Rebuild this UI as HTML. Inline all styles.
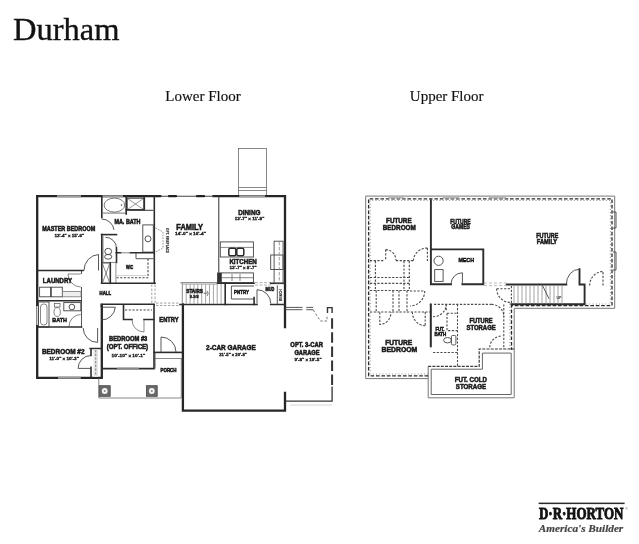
<!DOCTYPE html>
<html><head><meta charset="utf-8">
<style>
html,body{margin:0;padding:0;background:#fff;}
body{width:639px;height:544px;overflow:hidden;position:relative;}
svg{position:absolute;left:0;top:0;will-change:transform;}
.ser{font-family:"Liberation Serif",serif;fill:#111;}
.lb{font-family:"Liberation Sans",sans-serif;font-weight:bold;fill:#1a1a1a;text-anchor:middle;stroke:#1a1a1a;stroke-width:0.55;}
.W{stroke:#262626;stroke-width:2.3;fill:none;stroke-linecap:square;}
.I{stroke:#2c2c2c;stroke-width:1.6;fill:none;stroke-linecap:square;}
.T{stroke:#555;stroke-width:0.7;fill:none;}
.T2{stroke:#444;stroke-width:0.9;fill:none;}
.D{stroke:#4a4a4a;stroke-width:1.1;fill:none;stroke-dasharray:2.2 1.5;}
.DW{stroke:#777;stroke-width:0.8;fill:none;stroke-dasharray:1.6 1.2;}
.win{stroke:#9a9a9a;stroke-width:2.3;fill:none;}
</style></head>
<body>
<svg width="639" height="544" viewBox="0 0 639 544">
<!-- Titles -->
<text class="ser" x="13" y="39.5" font-size="32.5" stroke="#111" stroke-width="0.35">Durham</text>
<text class="ser" x="165.3" y="100.5" font-size="15" stroke="#111" stroke-width="0.15">Lower Floor</text>
<text class="ser" x="409.8" y="100.5" font-size="15" stroke="#111" stroke-width="0.15">Upper Floor</text>

<!-- ============ LOWER FLOOR ============ -->
<!-- chimney / bump -->
<rect class="T" x="238.5" y="148.5" width="28" height="47"/>
<line class="T" x1="238.5" y1="187.5" x2="266.5" y2="187.5"/>
<line class="T" x1="238.5" y1="190.5" x2="266.5" y2="190.5"/>

<!-- exterior walls -->
<path class="W" d="M37.2,196.2 H155.5 M213.5,196.2 H285 V327"/>
<path d="M155,196.2 H214" stroke="#444" stroke-width="1.1" fill="none"/>
<path d="M156.5,196.2 H160.5 M169,196.2 H176 M197,196.2 H204" stroke="#222" stroke-width="2.2" fill="none" stroke-linecap="round"/>
<path class="W" d="M37.2,196.2 V377.8 H101.8 V304.8"/>
<path class="W" d="M285,393 V410.6 H182.9 V304.5"/>
<!-- windows on top wall -->
<rect x="57" y="195.2" width="24" height="2.0" fill="#fff"/><path d="M57,195.6 H81 M57,196.79999999999998 H81" stroke="#5a5a5a" stroke-width="0.8" fill="none"/>
<rect x="102.5" y="195.2" width="20.5" height="2.0" fill="#fff"/><path d="M102.5,195.6 H123 M102.5,196.79999999999998 H123" stroke="#5a5a5a" stroke-width="0.8" fill="none"/>
<rect x="239.5" y="195.2" width="25.5" height="2.0" fill="#fff"/><path d="M239.5,195.6 H265 M239.5,196.79999999999998 H265" stroke="#5a5a5a" stroke-width="0.8" fill="none"/>

<!-- master bedroom / laundry -->
<path class="I" d="M37.2,270.5 H83"/>
<path class="T2" d="M84,270.5 A15.5,16 0 0 1 98.5,254.5 V270.5"/>
<!-- master bath block -->
<path class="I" d="M101.8,196.2 V217.5 M101.8,234.6 V283.3"/>
<path class="I" d="M154.3,196.2 V283.3"/>
<path d="M151.8,284.5 V303 M155,284.5 V303" stroke="#999" stroke-width="0.9" fill="none" stroke-dasharray="2.5 1.5"/>
<!-- tub -->
<path d="M102.5,213.1 H126" stroke="#666" stroke-width="0.9" fill="none"/>
<ellipse cx="114.4" cy="205.1" rx="10.3" ry="7" fill="none" stroke="#555" stroke-width="0.8"/>
<circle cx="121.5" cy="205" r="0.7" fill="#333"/>
<!-- shower -->
<path class="I" d="M126.2,196.5 V214"/>
<rect x="127.1" y="198.1" width="16.9" height="11.7" fill="none" stroke="#333" stroke-width="1.1"/>
<path d="M127.5,198.5 L143.5,209.5 M143.5,198.5 L127.5,209.5" stroke="#555" stroke-width="0.6" fill="none"/>
<path class="I" d="M144.3,196.5 V210 H126.2"/>
<path d="M144.5,210.3 H153.4" stroke="#444" stroke-width="1.1" fill="none"/>
<!-- bath inner wall near door -->
<path class="T2" d="M101.6,219 A12.5,12.5 0 0 1 114,230"/>
<path class="I" d="M101.6,234.6 H116.5"/>
<path class="T2" d="M105.5,237.3 A11,11 0 0 1 116.5,248.3"/>
<path class="T" d="M103,236 V262.4 H116.5"/>
<!-- toilet -->
<ellipse class="T2" cx="108.2" cy="251.5" rx="3.4" ry="3.2"/>
<ellipse class="T2" cx="108.2" cy="256.8" rx="3.6" ry="2.4"/>
<path class="I" d="M116.5,248 V262.4"/>
<!-- vanity -->
<rect class="T2" x="142.8" y="224.9" width="10.5" height="27.2"/>
<circle class="T2" cx="148" cy="238.8" r="3"/>
<!-- wic -->
<path class="I" d="M116.3,252.8 H120.5 M130.5,252.8 H154"/>
<path class="T" d="M120.5,252.8 H130.5"/>
<path class="T2" d="M136,253 V258.7 H153.5"/>
<path class="D" d="M116.5,277.7 H148 V259"/>
<path d="M116.5,275.6 H146" stroke="#bbb" stroke-width="0.7" fill="none"/>
<path d="M115.9,262 V283" stroke="#777" stroke-width="0.8" fill="none"/>
<path class="I" d="M101.6,283.3 H155"/>
<path class="I" d="M110.3,263 V283.3"/>
<!-- linen closet -->
<path class="T2" d="M101.8,263 H110.3"/>
<path class="T" d="M102.6,264 L109.5,282.5 M109.5,264 L102.6,282.5"/>
<!-- fireplace -->
<path class="DW" d="M155.5,228 L163,232 L163,248 L155.5,252"/>
<text class="lb" style="stroke-width:0.15;fill:#333" font-size="3.6" transform="translate(166.2,240.5) rotate(90)" textLength="25" lengthAdjust="spacingAndGlyphs">OPT. FIREPLACE</text>

<!-- laundry -->
<path class="T2" d="M81.5,270.5 V274 M81.5,287 V327.5"/>
<path class="T" d="M68,274 H80.8 M68,274 A13,13 0 0 0 80.8,287"/>
<rect class="T2" x="39.6" y="287.2" width="11" height="9.6"/>
<rect class="T2" x="51.3" y="287.2" width="11" height="9.6"/>
<rect x="62.5" y="291.6" width="18.5" height="5.2" fill="#eee" stroke="#777" stroke-width="0.8"/>
<path class="I" d="M37.2,300.8 H80.8"/>
<!-- bath -->
<rect x="36.2" y="306" width="2.2" height="19" fill="#fff"/><path d="M36.5,306 V325 M38.1,306 V325" stroke="#666" stroke-width="0.7" fill="none"/>
<rect class="T2" x="38.5" y="302" width="10.5" height="25"/>
<rect class="T" x="40.5" y="304" width="6.5" height="21" rx="3"/>
<rect class="T" x="54.5" y="303.5" width="5.5" height="3.5"/>
<ellipse class="T" cx="57.2" cy="312" rx="3.2" ry="4.5"/>
<rect class="T2" x="63.8" y="302.6" width="17" height="8.2"/>
<circle class="T2" cx="71.9" cy="307" r="2.8"/>
<path class="T" d="M69,326.5 A12,12 0 0 1 80.8,314.5"/>
<path class="I" d="M37.2,327 H81.5"/>
<path class="T2" d="M83.2,328 A14.4,14.4 0 0 0 97.6,342.4 V328"/>
<!-- bedroom 2 closet -->
<path class="I" d="M90.2,348.5 H101.8 M91,348.5 V355.5 M91,367.2 V377.8"/>
<rect x="93.5" y="349.5" width="4.5" height="27.5" fill="#e6e6e6"/>
<path class="D" d="M95.7,350 V376" style="stroke:#888"/>
<path class="T2" d="M78.1,368.4 H91 M78.1,368.4 A12.9,12.9 0 0 1 91,355.5"/>
<rect x="58.2" y="376.8" width="22.299999999999997" height="2.0" fill="#fff"/><path d="M58.2,377.2 H80.5 M58.2,378.40000000000003 H80.5" stroke="#5a5a5a" stroke-width="0.8" fill="none"/>

<!-- bedroom 3 -->
<path class="I" d="M101.4,304.3 H154 M101.4,304.3 V306.5"/>
<path class="I" d="M102,320 V377"/>
<path class="T2" d="M101.5,307.2 H115.3 A14,14 0 0 1 101.5,320"/>
<path class="I" d="M101.8,368.6 H154 V304.8"/>
<rect x="117.4" y="367.8" width="21.099999999999994" height="1.6" fill="#fff"/><path d="M117.4,368.2 H138.5 M117.4,369.00000000000006 H138.5" stroke="#5a5a5a" stroke-width="0.8" fill="none"/>
<path class="I" d="M123.5,305 V319.5 H132 M144,319.5 H153.5"/>
<path class="D" d="M125,310 H152"/>
<path class="T" d="M144,320 V332 M132,320 A12,12 0 0 0 144,332"/>

<!-- entry -->
<path d="M156,303.1 H179.5 M156,305.5 H179.5" stroke="#999" stroke-width="0.9" fill="none" stroke-dasharray="2.5 1.5"/>
<path class="I" d="M180,304.5 H257 M270.7,304.5 H285"/>
<path class="I" d="M154,352.4 H182.9"/>
<path class="T2" d="M161,337 V352 M161,337 A15,15 0 0 1 176,352"/>
<path class="T2" d="M155,352.4 V368.6"/>
<!-- porch -->
<path class="T" d="M155,358.5 H182.5"/>
<path class="T" d="M98.8,378 V398 H181.3 V358.5"/>
<rect x="99.2" y="385.7" width="11" height="10.6" fill="#6a6a6a" stroke="#444" stroke-width="0.8"/>
<rect x="146.4" y="385.7" width="10.8" height="10.6" fill="#6a6a6a" stroke="#444" stroke-width="0.8"/>
<circle cx="104.7" cy="391" r="2.9" fill="#f4f4f4"/>
<circle cx="151.8" cy="391" r="2.9" fill="#f4f4f4"/>
<circle cx="104.7" cy="391" r="1" fill="#888"/>
<circle cx="151.8" cy="391" r="1" fill="#888"/>

<!-- dining/kitchen -->
<path d="M218.8,196.2 V272.5" stroke="#333" stroke-width="1" fill="none"/>
<rect class="T2" x="220.3" y="241.9" width="33.1" height="15.1"/>
<path class="T" d="M220.3,247.4 H253.4"/>
<rect x="228.8" y="248.2" width="7" height="7.5" rx="1.5" fill="none" stroke="#2a2a2a" stroke-width="1.5"/>
<rect x="236.8" y="248.2" width="7" height="7.5" rx="1.5" fill="none" stroke="#2a2a2a" stroke-width="1.5"/>
<rect class="T2" x="217.6" y="272.9" width="35.8" height="9.7"/>
<rect x="217.6" y="272.9" width="4.2" height="9.7" fill="#333"/>
<path class="T" d="M222,277.7 H253.4 M232,274 V281 M240,274 V281"/>
<path d="M180.5,282.8 H224.8" stroke="#555" stroke-width="0.9" fill="none"/>
<path class="I" d="M217.6,283.3 H254"/>
<path d="M255,282.6 H270.7 M255,285 H270.7" stroke="#aaa" stroke-width="0.9" fill="none" stroke-dasharray="3 1.5"/>
<path class="I" d="M270.7,283.3 H285"/>
<!-- right cabinets -->
<rect class="T2" x="274.1" y="241.2" width="9" height="42.1"/>
<rect class="T2" x="270.7" y="255" width="12.4" height="14.5"/>
<path d="M279.3,242 V282.5" stroke="#888" stroke-width="0.8" fill="none" stroke-dasharray="3.5 1.5"/>
<!-- stairs -->
<path d="M182.3,283.2 V304" stroke="#777" stroke-width="0.9" fill="none"/>
<path d="M186.2,284 V304 M190.1,284 V304 M194,284 V304 M197.8,284 V304 M201.7,284 V304 M205.6,284 V304 M209.5,284 V304 M213.4,284 V304 M217.2,284 V304 M221.1,284 V304" stroke="#9a9a9a" stroke-width="0.9" fill="none"/>
<path d="M182,284.4 H217" stroke="#aaa" stroke-width="0.7" fill="none"/>
<path d="M203.5,293.2 H207.5 M207,290.8 Q209.5,293.2 207,296" stroke="#444" stroke-width="0.7" fill="none"/>
<path class="I" d="M225.2,283.3 V304.5"/>
<!-- pantry -->
<path class="T2" d="M231.4,286 H254 M231.4,286 V299 H254"/>
<path class="I" d="M254.1,297.5 V304.5"/>
<!-- mud -->
<path class="T2" d="M257,303.5 V289.7 A13.8,13.8 0 0 1 270.8,303.5"/>
<path d="M277.3,285.5 V304.5" stroke="#444" stroke-width="0.9" fill="none"/>
<text class="lb" font-size="3.36" transform="translate(282,295.2) rotate(-90)" style="stroke-width:0.1">BENCH</text>

<!-- opt 3-car garage -->
<path d="M285,307.4 H302.5 M285,309.7 H302.5 M306.3,307.4 H313.3 M306.3,309.7 H313.3" stroke="#444" stroke-width="0.9" fill="none"/>
<path d="M313.3,310 L320.4,321 H327 V315" stroke="#666" stroke-width="0.9" fill="none" stroke-dasharray="2.5 1.8"/>
<path d="M327.5,313 V307.6 H332.1 V313" stroke="#333" stroke-width="1.4" fill="none"/>
<path d="M332.1,318.2 V386.4" stroke="#333" stroke-width="2" fill="none" stroke-dasharray="10.5 3.6"/>
<path d="M332.1,386.4 V401.2 H285" stroke="#333" stroke-width="1.3" fill="none"/>
<path d="M290,405 H332" stroke="#ccc" stroke-width="0.8" fill="none"/>

<!-- Lower labels -->
<text class="lb" x="68.75" y="231.4" font-size="6.72" textLength="53.1" lengthAdjust="spacingAndGlyphs">MASTER BEDROOM</text>
<text class="lb" style="stroke-width:0.3" x="69.25" y="236.9" font-size="4.1" textLength="29.7" lengthAdjust="spacingAndGlyphs">13'-4&quot; x 15'-6&quot;</text>
<text class="lb" x="127.5" y="223.7" font-size="6.84" textLength="26.1" lengthAdjust="spacingAndGlyphs">MA. BATH</text>
<text class="lb" x="129.6" y="268.7" font-size="5.52" textLength="7.2" lengthAdjust="spacingAndGlyphs">WIC</text>
<text class="lb" x="189.6" y="229.6" font-size="8.16" textLength="26.5" lengthAdjust="spacingAndGlyphs">FAMILY</text>
<text class="lb" style="stroke-width:0.3" x="190.5" y="235.2" font-size="4.1" textLength="30.8" lengthAdjust="spacingAndGlyphs">14'-0&quot; x 16'-4&quot;</text>
<text class="lb" x="249.3" y="214.9" font-size="7.44" textLength="22.2" lengthAdjust="spacingAndGlyphs">DINING</text>
<text class="lb" style="stroke-width:0.3" x="249.5" y="220.0" font-size="4.1" textLength="29.7" lengthAdjust="spacingAndGlyphs">13'-7&quot; x 11'-8&quot;</text>
<text class="lb" x="243.1" y="264.4" font-size="7.20" textLength="27.4" lengthAdjust="spacingAndGlyphs">KITCHEN</text>
<text class="lb" style="stroke-width:0.3" x="243.1" y="269.2" font-size="4.1" textLength="27.1" lengthAdjust="spacingAndGlyphs">13'-7&quot; x 8'-7&quot;</text>
<text class="lb" x="57.5" y="282.5" font-size="6.96" textLength="29.3" lengthAdjust="spacingAndGlyphs">LAUNDRY</text>
<text class="lb" x="105.3" y="295.2" font-size="5.04" textLength="11.4" lengthAdjust="spacingAndGlyphs">HALL</text>
<text class="lb" x="59.7" y="322.2" font-size="6.24" textLength="14.7" lengthAdjust="spacingAndGlyphs">BATH</text>
<text class="lb" x="63.2" y="354.3" font-size="7.20" textLength="42.6" lengthAdjust="spacingAndGlyphs">BEDROOM #2</text>
<text class="lb" style="stroke-width:0.3" x="64" y="359.7" font-size="4.1" textLength="29.7" lengthAdjust="spacingAndGlyphs">11'-0&quot; x 10'-3&quot;</text>
<text class="lb" x="128.2" y="340.8" font-size="6.72" textLength="38.3" lengthAdjust="spacingAndGlyphs">BEDROOM #3</text>
<text class="lb" x="127.4" y="348.7" font-size="6.96" textLength="41.5" lengthAdjust="spacingAndGlyphs">(OPT. OFFICE)</text>
<text class="lb" style="stroke-width:0.3" x="128.4" y="356.7" font-size="4.1" textLength="33.7" lengthAdjust="spacingAndGlyphs">10'-10&quot; x 10'-1&quot;</text>
<text class="lb" x="169" y="322.2" font-size="6.96" textLength="19.3" lengthAdjust="spacingAndGlyphs">ENTRY</text>
<text class="lb" x="168.5" y="372.1" font-size="5.52" textLength="16.0" lengthAdjust="spacingAndGlyphs">PORCH</text>
<text class="lb" x="194.6" y="292.9" font-size="5.76" textLength="16.6" lengthAdjust="spacingAndGlyphs">STAIRS</text>
<text class="lb" style="stroke-width:0.3" x="194.2" y="298" font-size="4.08" textLength="9" lengthAdjust="spacingAndGlyphs">8-9/8</text>
<text class="lb" x="241.5" y="293.7" font-size="5.52" textLength="14.8" lengthAdjust="spacingAndGlyphs">PNTRY</text>
<text class="lb" x="270" y="290.7" font-size="5.28" textLength="8.8" lengthAdjust="spacingAndGlyphs">MUD</text>
<text class="lb" x="230.9" y="350.2" font-size="7.56" textLength="49.7" lengthAdjust="spacingAndGlyphs">2-CAR GARAGE</text>
<text class="lb" style="stroke-width:0.3" x="233" y="355.7" font-size="4.1" textLength="27.6" lengthAdjust="spacingAndGlyphs">21'-5&quot; x 20'-8&quot;</text>
<text class="lb" x="306.7" y="347.3" font-size="7.08" textLength="32.7" lengthAdjust="spacingAndGlyphs">OPT. 3-CAR</text>
<text class="lb" x="307" y="354.5" font-size="7.08" textLength="25.2" lengthAdjust="spacingAndGlyphs">GARAGE</text>
<text class="lb" style="stroke-width:0.3" x="308" y="360.7" font-size="4.1" textLength="27.1" lengthAdjust="spacingAndGlyphs">9'-8&quot; x 19'-5&quot;</text>

<!-- ============ UPPER FLOOR ============ -->
<!-- outer hatched band -->
<path d="M428.2,374 H370.2 V200.5 H610.4 V304 H509.9 V349" fill="none" stroke="#9a9a9a" stroke-width="1.2" stroke-dasharray="1 2.2"/>
<path d="M428.2,378.6 H365.7 V196.1 H614.7 V308.3 H514.2 V397.8 H428.2 V366.3" fill="none" stroke="#777" stroke-width="1"/>
<path d="M428.2,375.8 H368.6 V198.8 H612 V305.6 H511.5 V350" fill="none" stroke="#2a2a2a" stroke-width="1.3" stroke-dasharray="3.6 1.8"/>
<path d="M613,212 H616 V228 H613 M613,252 H616 V270 H613" stroke="#444" stroke-width="0.9" fill="none"/>
<path d="M388.5,197.5 H404 M443,197.5 H459 M489,197.5 H506" stroke="#b5b5b5" stroke-width="2.2" fill="none"/>
<!-- cold storage -->
<path d="M428.2,366.3 H479.2 V349 H514.2" fill="none" stroke="#383838" stroke-width="1.2" stroke-dasharray="3 1.2"/>
<path d="M431.2,369.2 V394.5 H511.2 V353.1 H482.4 V369.2 Z" fill="none" stroke="#555" stroke-width="0.9"/>
<!-- games/mech walls -->
<path class="I" d="M430.9,200.3 V249.4 H483.3 V284.2 H462.4 M451,284.2 H430.9 V249.4" style="stroke-width:1.9"/>
<path class="T2" d="M451,284.2 A11.4,11.4 0 0 1 462.4,272.8 V284.2"/>
<circle class="T2" cx="438.6" cy="260.8" r="4.6"/>
<rect class="T2" x="434.7" y="269.6" width="8.4" height="11.8"/>
<!-- stairs upper -->
<path class="I" d="M506.8,284.5 H566.3 M579.5,269.2 V284.5 H584.6 V304.2 H511.4" style="stroke-width:1.9"/>
<path stroke="#8a8a8a" stroke-width="0.8" fill="none" d="M514,285 V304 M518,285 V304 M522,285 V304 M526,285 V304 M530,285 V304 M534,285 V304 M538,285 V304 M542,285 V304 M546,285 V304 M550,285 V304 M554,285 V304 M558,285 V304 M562,285 V304"/>
<path class="T2" d="M542.5,285.5 L549,298.7"/>
<text x="559" y="299" font-family="Liberation Sans" font-weight="bold" font-size="3.5" fill="#333" text-anchor="middle">UP</text>
<path class="T2" d="M566.3,284.5 A13.2,15.3 0 0 1 579.5,269.2"/>
<path class="D" d="M589.7,285.5 A14,14 0 0 1 603,271.3 V285.5"/>
<path d="M484,283 H506.8 M484,285.6 H506.8" fill="none" stroke="#aaa" stroke-width="0.8" stroke-dasharray="3 2"/>
<path class="D" d="M496.7,288.8 H510.4 M496.7,288.8 A13.6,13.6 0 0 0 510.4,302.4 M511.4,286 V304"/>
<!-- upper left dashed closets/bath -->
<path class="D" d="M370,260.6 H384 M396,260.6 H413"/>
<path class="D" d="M385.7,249.6 V260.6 M385.7,249.6 A10.5,11 0 0 1 396,260.6"/>
<path class="D" d="M427.4,248 V261 M427.4,248 A14,13 0 0 0 413.4,261"/>
<path class="D" d="M375.4,261 V290 M404,261 V290 M409.3,261 V290"/>
<path class="D" d="M370,277.5 H409.3 M370,283.4 H409.3 M370,290.5 H409.3"/>
<path class="D" d="M376.2,290.5 V313 M393,290.5 V313 M399,290.5 V313 M407,290.5 V313"/>
<path class="D" d="M410,291 H424.7 M424.7,291 A14.7,15 0 0 1 410,306"/>
<path class="D" d="M370,312 H432"/>
<path class="D" d="M425.2,312 V325.7 M425.2,325.7 A13,13.5 0 0 1 412.4,312.3"/>
<path class="D" d="M379.8,312.3 V324.4 A11.2,12.1 0 0 0 391,312.3"/>
<!-- fut bath / storage -->
<path d="M430.8,304.3 V346.6" fill="none" stroke="#2a2a2a" stroke-width="2" stroke-linecap="round"/>
<path class="D" d="M434,304.4 H491.6 M503.8,304.4 V349 M457.5,304.4 V366 M446.2,304.4 V311.4"/>
<path class="D" d="M433,316.7 A13,12.3 0 0 0 446.2,304.4"/>
<path class="D" d="M447,313.2 H457.5 M447,313.2 V330.6 H457.5"/>
<path class="D" d="M491.6,304.4 A12,12.3 0 0 1 503.8,316.7 M489.8,347.2 A12.5,11.3 0 0 1 502.3,335.9"/>
<path class="D" d="M433,352.5 H457.5"/>
<ellipse class="T2" cx="447.5" cy="340.2" rx="3.9" ry="2.7"/>
<rect class="T2" x="451.4" y="335.5" width="4.5" height="9.4" rx="1.2"/>

<!-- Upper labels -->
<text class="lb" x="398.85" y="223.1" font-size="7.20" textLength="25.5" lengthAdjust="spacingAndGlyphs">FUTURE</text>
<text class="lb" x="399.25" y="230.1" font-size="7.20" textLength="32.9" lengthAdjust="spacingAndGlyphs">BEDROOM</text>
<text class="lb" x="460.45" y="223.7" font-size="6.72" textLength="20.5" lengthAdjust="spacingAndGlyphs">FUTURE</text>
<text class="lb" x="460.6" y="229.4" font-size="6.72" textLength="18.6" lengthAdjust="spacingAndGlyphs">GAMES</text>
<text class="lb" x="466.2" y="261.5" font-size="6.24" textLength="15.6" lengthAdjust="spacingAndGlyphs">MECH</text>
<text class="lb" x="547.25" y="237.7" font-size="6.96" textLength="22.1" lengthAdjust="spacingAndGlyphs">FUTURE</text>
<text class="lb" x="547" y="244.2" font-size="6.96" textLength="20.3" lengthAdjust="spacingAndGlyphs">FAMILY</text>
<text class="lb" x="398.7" y="344.7" font-size="7.44" textLength="27.0" lengthAdjust="spacingAndGlyphs">FUTURE</text>
<text class="lb" x="399.4" y="352.4" font-size="7.44" textLength="35.8" lengthAdjust="spacingAndGlyphs">BEDROOM</text>
<text class="lb" x="439.9" y="330.7" font-size="5.28" textLength="9.0" lengthAdjust="spacingAndGlyphs">FUT.</text>
<text class="lb" x="440.3" y="336.1" font-size="5.28" textLength="11.8" lengthAdjust="spacingAndGlyphs">BATH</text>
<text class="lb" x="481" y="322.9" font-size="6.96" textLength="23.2" lengthAdjust="spacingAndGlyphs">FUTURE</text>
<text class="lb" x="481.1" y="330.0" font-size="6.96" textLength="29.2" lengthAdjust="spacingAndGlyphs">STORAGE</text>
<text class="lb" x="470.9" y="381.9" font-size="7.20" textLength="32.4" lengthAdjust="spacingAndGlyphs">FUT. COLD</text>
<text class="lb" x="471" y="389.0" font-size="7.20" textLength="30.3" lengthAdjust="spacingAndGlyphs">STORAGE</text>

<!-- ============ LOGO ============ -->
<rect x="538.6" y="502.6" width="86" height="1.5" fill="#2a2a2a"/>
<text x="581.2" y="519.4" font-family="Liberation Serif,serif" font-weight="bold" font-size="17.4" text-anchor="middle" fill="#111" stroke="#111" stroke-width="0.9" textLength="84.5" lengthAdjust="spacingAndGlyphs">D·R·HORTON</text>
<text x="625.5" y="510" font-family="Liberation Sans" font-size="3" fill="#333">®</text>
<text x="581" y="531.6" font-family="Liberation Serif,serif" font-style="italic" font-weight="bold" font-size="10.5" text-anchor="middle" fill="#444" stroke="#444" stroke-width="0.2" textLength="84.5" lengthAdjust="spacingAndGlyphs">America's Builder</text>
</svg>
</body></html>
